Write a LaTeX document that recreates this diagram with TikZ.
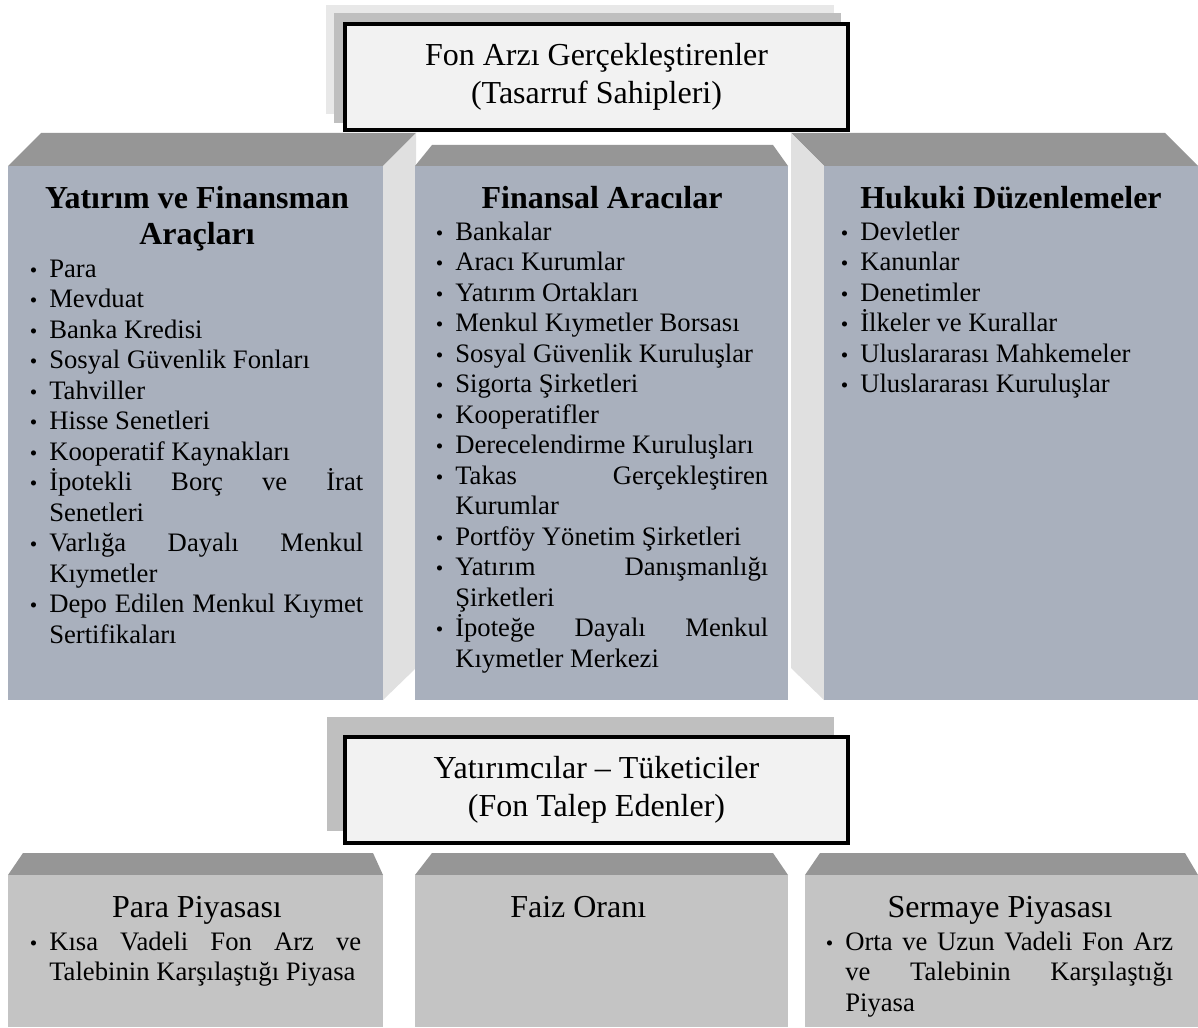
\documentclass[tikz,border=0pt]{standalone}
\usepackage{fontspec}
\setmainfont{Liberation Serif}
\definecolor{panelblue}{RGB}{169,176,189}
\definecolor{topgray}{RGB}{150,150,150}
\definecolor{sidegray}{RGB}{224,224,224}
\definecolor{lowfront}{RGB}{196,196,196}
\definecolor{boxfill}{RGB}{242,242,242}
\definecolor{shadowmid}{RGB}{191,191,191}
\definecolor{shadowlight}{RGB}{232,232,232}
\hbadness=10000
\hfuzz=200pt
\newlength\jw
% bullet hung left of the text start; optional gap between bullet and text
\newcommand\bul[1][9pt]{\llap{{\fontsize{16}{16}\selectfont\textbullet}\hspace{#1}}}
% list lines: bulleted, bulleted and justified, continuation, continuation justified
\newcommand\li[2][9pt]{\hbox{\bul[#1]#2}}
\newcommand\lj[2][9pt]{\hbox to \jw{\bul[#1]#2}}
\newcommand\lc[1]{\hbox{#1}}
\newcommand\lcj[1]{\hbox to \jw{#1}}
\begin{document}
\begin{tikzpicture}[x=0.75pt,y=-0.75pt,
  front/.style={fill=panelblue},
  topface/.style={fill=topgray},
  sideface/.style={fill=sidegray},
  lowface/.style={fill=lowfront},
  titlebox/.style={draw=black, line width=3pt, fill=boxfill, inner sep=0pt,
    minimum width=377.25pt, minimum height=79.5pt, align=center,
    font=\fontsize{24}{28.5}\selectfont},
  head/.style={font=\fontsize{24}{27.6}\selectfont\bfseries, inner sep=0pt, anchor=base},
  ptitle/.style={font=\fontsize{24}{27.6}\selectfont, inner sep=0pt, anchor=base},
  items/.style={font=\fontsize{20}{22.875}\selectfont, inner sep=0pt, anchor=base west},
]
\useasboundingbox (0,0) rectangle (1198,1027);
\fill[white] (0,0) rectangle (1198,1027);

% ---- upper three blocks ----
\fill[topface] (8,166) -- (41,133) -- (416,133) -- (383,166) -- cycle;
\fill[sideface] (383,166) -- (416,133) -- (416,668) -- (383,700) -- cycle;
\fill[front] (8,166) rectangle (383,700);

\fill[topface] (415,166) -- (432,145) -- (773,145) -- (788,166) -- cycle;
\fill[front] (415,166) rectangle (788,700);

\fill[topface] (824,166) -- (791,133) -- (1165,133) -- (1198,166) -- cycle;
\fill[sideface] (791,133) -- (824,166) -- (824,700) -- (791,668) -- cycle;
\fill[front] (824,166) rectangle (1198,700);

% ---- lower three blocks ----
\fill[topface] (8,875) -- (23,853) -- (373,853) -- (383,875) -- cycle;
\fill[lowface] (8,875) rectangle (383,1027);
\fill[topface] (415,875) -- (432,853) -- (773,853) -- (788,875) -- cycle;
\fill[lowface] (415,875) rectangle (788,1027);
\fill[topface] (805,875) -- (820,853) -- (1185,853) -- (1198,875) -- cycle;
\fill[lowface] (805,875) rectangle (1198,1027);

% ---- title boxes with their shadows ----
\fill[shadowlight] (326,5) rectangle (834,114);
\fill[shadowmid] (334,13) rectangle (841,123);
\node[titlebox] (supply) at (596.5,77) {Fon Arzı Gerçekleştirenler\\(Tasarruf Sahipleri)};

\fill[shadowmid] (327,717) rectangle (834,831);
\node[titlebox] (demand) at (596.5,790) {Yatırımcılar – Tüketiciler\\(Fon Talep Edenler)};

% ---- headings ----
\node[head] (h1a) at (197,208) {Yatırım ve Finansman};
\node[head] (h1b) at (197,244) {Araçları};
\node[head] (h2) at (602,208) {Finansal Aracılar};
\node[head] (h3) at (1011,208) {Hukuki Düzenlemeler};

\node[ptitle] (t1) at (197,917) {Para Piyasası};
\node[ptitle, anchor=base west] (t2) at (510,917) {Faiz Oranı};
\node[ptitle] (t3) at (1000,917) {Sermaye Piyasası};

% ---- lists ----
\node[items] (l1) at (49,277) {\vtop{\setlength\jw{235.5pt}\lineskiplimit=-100pt
  \li{Para}
  \li{Mevduat}
  \li{Banka Kredisi}
  \li{Sosyal Güvenlik Fonları}
  \li{Tahviller}
  \li{Hisse Senetleri}
  \li{Kooperatif Kaynakları}
  \lj{İpotekli Borç ve İrat}
  \lc{Senetleri}
  \lj{Varlığa Dayalı Menkul}
  \lc{Kıymetler}
  \lj{Depo Edilen Menkul Kıymet}
  \lc{Sertifikaları}}};

\node[items] (l2) at (455,240) {\vtop{\setlength\jw{234.75pt}\lineskiplimit=-100pt
  \li{Bankalar}
  \li{Aracı Kurumlar}
  \li{Yatırım Ortakları}
  \li{Menkul Kıymetler Borsası}
  \li{Sosyal Güvenlik Kuruluşlar}
  \li{Sigorta Şirketleri}
  \li{Kooperatifler}
  \li{Derecelendirme Kuruluşları}
  \lj{Takas Gerçekleştiren}
  \lc{Kurumlar}
  \li{Portföy Yönetim Şirketleri}
  \lj{Yatırım Danışmanlığı}
  \lc{Şirketleri}
  \lj{İpoteğe Dayalı Menkul}
  \lc{Kıymetler Merkezi}}};

\node[items] (l3) at (860,240) {\vtop{\lineskiplimit=-100pt
  \li{Devletler}
  \li{Kanunlar}
  \li{Denetimler}
  \li{İlkeler ve Kurallar}
  \li{Uluslararası Mahkemeler}
  \li{Uluslararası Kuruluşlar}}};

\node[items] (l4) at (49,950) {\vtop{\setlength\jw{234pt}\lineskiplimit=-100pt
  \lj{Kısa Vadeli Fon Arz ve}
  \lc{Talebinin Karşılaştığı Piyasa}}};

\node[items] (l5) at (845,950) {\vtop{\setlength\jw{246pt}\lineskiplimit=-100pt
  \lj{Orta ve Uzun Vadeli Fon Arz}
  \lcj{ve Talebinin Karşılaştığı}
  \lc{Piyasa}}};
\end{tikzpicture}
\end{document}
